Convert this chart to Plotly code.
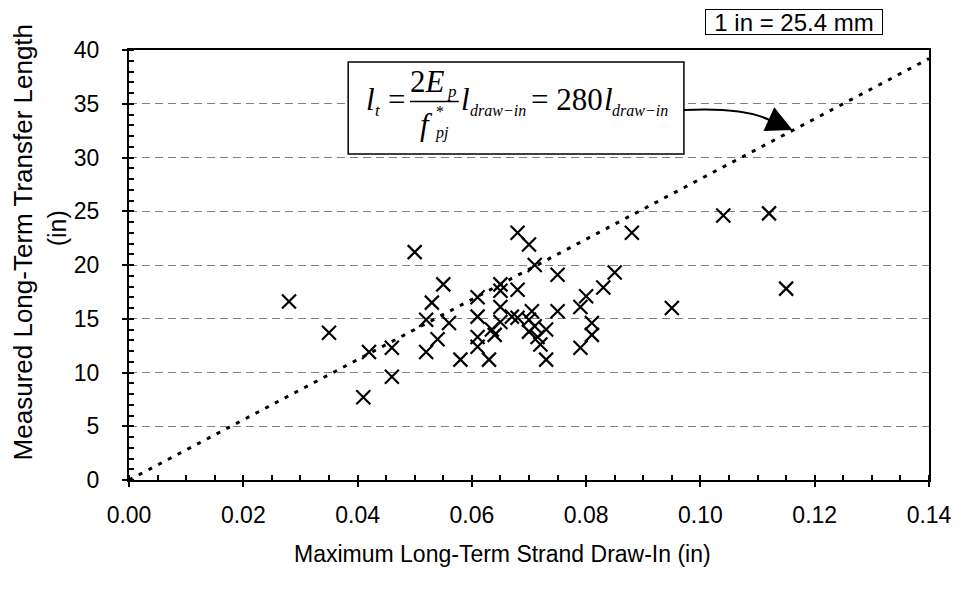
import plotly.graph_objects as go

# ---- data ----
draw_in = [0.028, 0.035, 0.041, 0.042, 0.046, 0.046, 0.050, 0.052, 0.052, 0.053,
           0.054, 0.055, 0.056, 0.058, 0.061, 0.061, 0.061, 0.061, 0.063, 0.0635,
           0.064, 0.065, 0.065, 0.065, 0.065, 0.067, 0.068, 0.068, 0.068, 0.070,
           0.070, 0.0705, 0.070, 0.071, 0.071, 0.0715, 0.072, 0.073, 0.073, 0.075,
           0.075, 0.079, 0.079, 0.080, 0.081, 0.081, 0.083, 0.085, 0.088, 0.095,
           0.104, 0.112, 0.115]
transfer = [16.6, 13.7, 7.7, 11.9, 12.3, 9.6, 21.2, 14.9, 11.9, 16.5,
            13.1, 18.2, 14.6, 11.2, 17.0, 15.2, 13.3, 12.4, 11.2, 14.0,
            13.5, 18.2, 17.6, 16.1, 14.7, 15.2, 23.0, 17.7, 15.1, 21.9,
            14.9, 15.7, 13.8, 20.0, 14.3, 13.3, 12.6, 11.2, 14.0, 19.1,
            15.7, 16.1, 12.3, 17.1, 14.6, 13.5, 17.9, 19.3, 23.0, 16.0,
            24.6, 24.8, 17.8]
trend_x = [0.0, 0.14]
trend_y = [0.0, 39.2]
x_ticks = [0.00, 0.02, 0.04, 0.06, 0.08, 0.10, 0.12, 0.14]
y_ticks = [0, 5, 10, 15, 20, 25, 30, 35, 40]

# page has an 8px body margin; figure sized to fit the 964x598 window
OFF = 8
W, H = 964 - OFF, 598 - OFF
# plot area in screen pixels
SX0, SX1, SY0, SY1 = 129, 932, 50, 480
L, R, T, B = SX0 - OFF, W - (SX1 - OFF), SY0 - OFF, H - (SY1 - OFF)


def px(xs):
    return (xs - SX0) / (SX1 - SX0)


def py(ys):
    return (SY1 - ys) / (SY1 - SY0)


SANS = "Liberation Sans, Arial, sans-serif"
SERIF = "Liberation Serif, Times New Roman, serif"

fig = go.Figure()
fig.add_trace(go.Scatter(x=trend_x, y=trend_y, mode="lines",
                         line=dict(color="black", width=3, dash="4px,7px"),
                         hoverinfo="skip", showlegend=False))
fig.add_trace(go.Scatter(x=draw_in, y=transfer, mode="markers",
                         marker=dict(symbol="x-thin", size=14,
                                     line=dict(color="black", width=2.2)),
                         showlegend=False))

axis_common = dict(showline=True, linecolor="black", linewidth=2, mirror=True,
                   tickfont=dict(family=SANS, size=23, color="black"),
                   tickcolor="black", tickwidth=2, zeroline=False)

fig.update_layout(
    width=W, height=H, margin=dict(l=L, r=R, t=T, b=B),
    paper_bgcolor="white", plot_bgcolor="white",
    xaxis=dict(range=[0, 0.14], tickvals=x_ticks, tickformat=".2f",
               ticks="outside", ticklen=5, showgrid=False,
               ticklabelstandoff=8,
               minor=dict(dtick=0.005, ticks="inside", ticklen=5,
                          tickcolor="black", tickwidth=1.5, showgrid=False),
               **axis_common),
    yaxis=dict(range=[0, 40], tickvals=y_ticks, ticks="outside", ticklen=5,
               showgrid=True, gridcolor="#808080", gridwidth=1,
               griddash="8px,5px", ticklabelstandoff=18,
               minor=dict(dtick=1, ticks="inside", ticklen=5,
                          tickcolor="black", tickwidth=1.5, showgrid=False),
               **axis_common),
    xaxis2=dict(range=[0, 0.14], overlaying="x", anchor="y", side="bottom",
                tickvals=x_ticks, ticks="inside", ticklen=5, tickwidth=2,
                tickcolor="black", showticklabels=False, showline=False,
                showgrid=False, zeroline=False),
    yaxis2=dict(range=[0, 40], overlaying="y", anchor="x", side="left",
                tickvals=y_ticks, ticks="inside", ticklen=5, tickwidth=2,
                tickcolor="black", showticklabels=False, showline=False,
                showgrid=False, zeroline=False),
)

# equation box, fraction bar and curved arrow
fig.add_shape(type="rect", xref="paper", yref="paper",
              x0=px(349), x1=px(686), y0=py(154), y1=py(62),
              line=dict(color="black", width=1.5), fillcolor="white")
fig.add_shape(type="line", xref="paper", yref="paper",
              x0=px(411), x1=px(460), y0=py(101.5), y1=py(101.5),
              line=dict(color="black", width=1.5))
fig.add_shape(type="path", xref="paper", yref="paper",
              path=f"M {px(686)},{py(110)} Q {px(748)},{py(107)} {px(774)},{py(121)}",
              line=dict(color="black", width=2))

annotations = [
    dict(x=px(795), y=py(130), ax=-24, ay=-11, showarrow=True, arrowhead=2,
         arrowsize=2.6, arrowwidth=2, arrowcolor="black", text="",
         standoff=0),
]


def serif_piece(text, left, baseline, size):
    # centre of a Liberation Serif line box relative to its baseline
    annotations.append(dict(text=text, x=px(left - 1), y=py(baseline - 0.3375 * size),
                            xanchor="left", yanchor="middle",
                            font=dict(family=SERIF, size=size)))


MAIN, SUB = 31, 17
serif_piece("<i>l</i>", 366, 110, MAIN)
serif_piece("<i>t</i>", 375, 116, SUB)
serif_piece("=", 388, 110, MAIN)
serif_piece("2<i>E</i>", 410, 92, MAIN)
serif_piece("<i>p</i>", 447, 97, SUB)
serif_piece("<i>f</i>", 420, 135, MAIN)
# superscript star stacked over the "pj" subscript
annotations.append(dict(text="*<br><i>pj</i>", x=px(434), y=py(143.5),
                        xanchor="left", yanchor="bottom", align="left",
                        font=dict(family=SERIF, size=16)))
serif_piece("<i>l</i>", 461, 110, MAIN)
serif_piece("<i>draw\u2212in</i>", 470, 116, 16)
serif_piece("= 280", 532, 110, MAIN)
serif_piece("<i>l</i>", 605, 110, MAIN)
serif_piece("<i>draw\u2212in</i>", 613, 116, 16)

annotations += [
    dict(text="1 in = 25.4 mm", x=px(796), y=py(21.5), xanchor="center",
         yanchor="middle", width=172, height=20, font=dict(family=SANS, size=24),
         bordercolor="black", borderwidth=1, borderpad=2, bgcolor="white"),
    dict(text="Maximum Long-Term Strand Draw-In (in)", x=px(504), y=py(554),
         xanchor="center", yanchor="middle", font=dict(family=SANS, size=23)),
    dict(text="Measured Long-Term Transfer Length", x=px(23), y=py(242),
         textangle=-90, xanchor="center", yanchor="middle",
         font=dict(family=SANS, size=26)),
    dict(text="(in)", x=px(57), y=py(228), textangle=-90, xanchor="center",
         yanchor="middle", font=dict(family=SANS, size=25)),
]
for a in annotations:
    a.setdefault("xref", "paper")
    a.setdefault("yref", "paper")
    a.setdefault("showarrow", False)
    a.setdefault("font", dict())
    a["font"]["color"] = "black"
    fig.add_annotation(**a)

fig.write_html("out.html")
